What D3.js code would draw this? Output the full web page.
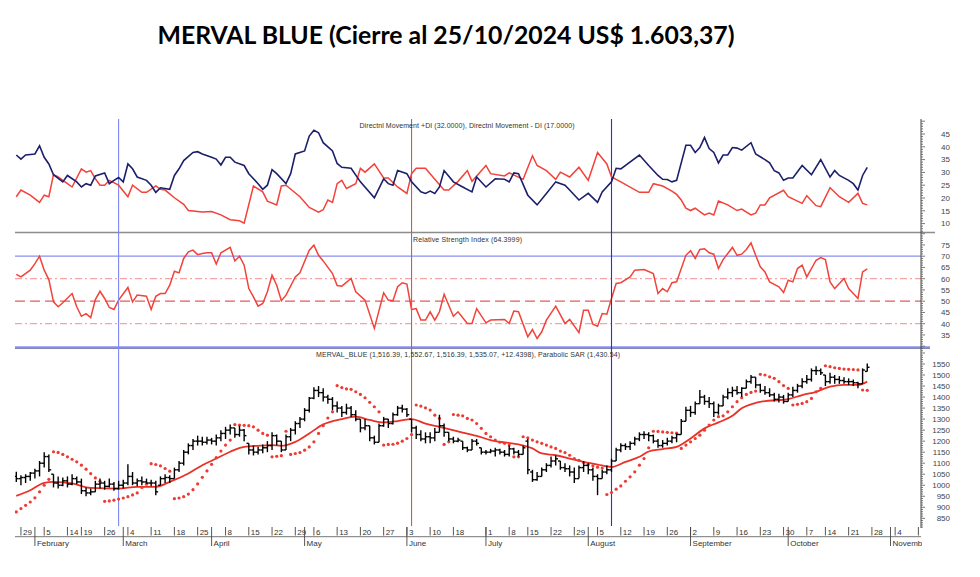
<!DOCTYPE html>
<html><head><meta charset="utf-8">
<script src="https://cdn.jsdelivr.net/npm/d3@7"></script>
<style>body{margin:0;background:#fff}svg{display:block}</style>
</head><body><svg id="c" width="980" height="577"></svg>
<script>
// ---------- DATA ----------
const titleText = "MERVAL BLUE (Cierre al 25/10/2024 US$ 1.603,37)";
const diTitle = "Directnl Movement +DI (32.0000), Directnl Movement - DI (17.0000)";
const rsiTitle = "Relative Strength Index (64.3999)";
const priceTitle = "MERVAL_BLUE (1,516.39, 1,552.67, 1,516.39, 1,535.07, +12.4398), Parabolic SAR (1,430.54)";

const firstDay = "2024-01-26", lastAxisDay = "2024-11-15";
const holidays = ["2024-02-12","2024-02-13","2024-03-28","2024-03-29","2024-04-01","2024-04-02","2024-05-01",
  "2024-06-17","2024-06-20","2024-06-21","2024-07-09","2024-10-11"];

const weekTicks = ["2024-01-29","2024-02-05","2024-02-14","2024-02-19","2024-02-26","2024-03-04","2024-03-11","2024-03-18",
  "2024-03-25","2024-04-08","2024-04-15","2024-04-22","2024-04-29","2024-05-06","2024-05-13","2024-05-20","2024-05-27",
  "2024-06-03","2024-06-10","2024-06-18","2024-07-01","2024-07-08","2024-07-15","2024-07-22","2024-07-29","2024-08-05",
  "2024-08-12","2024-08-19","2024-08-26","2024-09-02","2024-09-09","2024-09-16","2024-09-23","2024-09-30","2024-10-07",
  "2024-10-14","2024-10-21","2024-10-28","2024-11-04","2024-11-11"];
const monthTicks = ["2024-02-01","2024-03-01","2024-04-03","2024-05-02","2024-06-03","2024-07-01","2024-08-01","2024-09-02","2024-10-01","2024-11-01"];
const monthNames = ["February","March","April","May","June","July","August","September","October","November"];
const markerDays = ["2024-02-29","2024-06-04","2024-08-08"];
const markerColors = ["#7f86f5","#e0524a","#2b2bf0"];

const diTicks = [10,15,20,25,30,35,40,45];
const rsiTicks = [35,40,45,50,55,60,65,70,75];
const priceTicks = [850,900,950,1000,1050,1100,1150,1200,1250,1300,1350,1400,1450,1500,1550];

const open = [1040,1030,1035,1040,1055,1065,1100,1130,1050,1010,1000,1020,1005,1030,1015,975,965,970,1005,1010,995,1005,985,1000,
1010,1040,1010,1020,1015,1010,1010,1000,1030,1035,1030,1070,1100,1150,1180,1200,1200,1195,1205,1200,1215,1235,1250,1260,1230,1250,
1190,1160,1150,1160,1170,1180,1225,1200,1160,1220,1250,1280,1300,1340,1395,1430,1420,1400,1390,1360,1350,1330,1350,1320,1300,1260,
1270,1215,1195,1270,1300,1280,1320,1350,1345,1300,1260,1230,1210,1220,1215,1240,1270,1240,1210,1200,1200,1170,1160,1200,1170,1150,
1150,1155,1160,1150,1140,1165,1150,1140,1200,1060,1025,1040,1070,1090,1110,1110,1080,1075,1060,1030,1080,1090,1070,1040,1030,1060,
1070,1110,1160,1180,1175,1190,1210,1230,1230,1225,1200,1180,1190,1200,1215,1230,1290,1340,1330,1370,1400,1380,1370,1330,1360,1400,
1420,1430,1420,1440,1470,1490,1455,1430,1420,1410,1390,1400,1380,1410,1430,1450,1470,1480,1520,1520,1500,1470,1490,1480,1475,1470,
1470,1465,1460,1516.39];
const high = [1061,1045,1050,1060,1075,1110,1150,1140,1050,1040,1035,1040,1050,1040,1030,990,985,1020,1030,1020,1030,1015,1020,1025,
1095,1060,1030,1040,1030,1025,1020,1040,1050,1045,1080,1110,1160,1190,1210,1225,1220,1220,1215,1230,1250,1265,1275,1260,1270,1255,
1190,1180,1175,1185,1200,1240,1230,1200,1230,1260,1290,1310,1350,1400,1445,1450,1440,1410,1400,1380,1360,1370,1360,1340,1300,1300,
1270,1225,1280,1310,1300,1330,1360,1365,1350,1300,1270,1250,1240,1240,1260,1320,1280,1240,1220,1215,1200,1175,1210,1210,1170,1160,
1165,1170,1165,1160,1180,1170,1160,1180,1210,1070,1060,1080,1100,1130,1135,1110,1100,1090,1080,1090,1110,1100,1080,1050,1070,1090,
1120,1170,1190,1190,1200,1220,1240,1245,1240,1230,1210,1205,1215,1225,1235,1300,1356,1360,1380,1432,1410,1400,1380,1370,1410,1440,
1447,1450,1445,1480,1500,1490,1460,1450,1440,1420,1415,1410,1420,1447,1460,1485,1500,1530,1540,1530,1500,1510,1500,1495,1490,1485,
1480,1470,1530,1552.67];
const low = [1015,1000,1010,1020,1030,1040,1080,1060,990,985,995,990,1000,1005,960,950,955,970,985,980,990,975,980,985,
1000,1000,995,1000,1008,995,955,1000,1010,1010,1030,1060,1090,1140,1160,1180,1180,1185,1185,1180,1200,1210,1230,1215,1220,1200,
1140,1135,1140,1145,1150,1160,1180,1150,1160,1200,1230,1260,1290,1330,1390,1400,1380,1370,1340,1330,1310,1320,1310,1290,1240,1250,
1200,1185,1195,1265,1260,1275,1315,1330,1310,1240,1210,1200,1190,1190,1200,1240,1220,1200,1190,1195,1160,1150,1160,1180,1140,1140,
1145,1130,1140,1130,1130,1140,1130,1140,1050,1015,1020,1040,1060,1080,1090,1070,1060,1040,1010,1030,1060,1050,1020,955,1030,1050,
1060,1110,1150,1160,1160,1180,1200,1210,1200,1190,1170,1170,1180,1190,1195,1230,1290,1310,1320,1370,1365,1350,1310,1320,1360,1390,
1400,1410,1400,1440,1460,1440,1420,1410,1400,1380,1375,1370,1380,1400,1420,1440,1460,1470,1500,1500,1450,1460,1460,1460,1460,1455,
1450,1440,1460,1516.39];
const close = [1030,1035,1040,1055,1065,1100,1130,1070,1010,1000,1020,1005,1030,1015,975,965,970,1005,1010,995,1005,985,1000,1010,
1040,1010,1020,1015,1010,1010,970,1030,1035,1030,1070,1100,1150,1180,1200,1200,1195,1205,1200,1215,1235,1250,1260,1230,1250,1225,
1160,1150,1160,1170,1180,1225,1200,1160,1220,1250,1280,1300,1340,1395,1430,1420,1400,1390,1360,1350,1330,1350,1320,1300,1260,1270,
1215,1195,1270,1300,1280,1320,1350,1345,1320,1260,1230,1210,1220,1215,1240,1270,1240,1210,1200,1205,1170,1160,1200,1190,1150,1150,
1155,1160,1150,1140,1165,1150,1140,1170,1070,1025,1040,1070,1090,1110,1120,1080,1075,1060,1030,1080,1090,1070,1040,1030,1060,1070,
1110,1160,1180,1175,1190,1210,1230,1230,1225,1200,1180,1190,1200,1215,1230,1290,1340,1330,1370,1400,1380,1370,1330,1360,1400,1420,
1430,1420,1440,1470,1490,1455,1430,1420,1410,1390,1400,1380,1410,1430,1450,1470,1480,1520,1520,1510,1470,1490,1480,1475,1470,1470,
1465,1460,1522.63,1535.07];
const sar = [879,894,909,924,943,970,1000,1027,1152,1149,1140,1129,1118,1106,1091,1073,1053,1033,1018,927,929,932,937,942,948,956,
965,990,1005,1098,1094,1088,1076,1064,939,942,948,960,980,1006,1036,1065,1095,1125,1155,1182,1205,1275,1273,1272,1270,1265,1250,
1235,1227,1129,1131,1134,1245,1140,1144,1148,1159,1174,1197,1235,1270,1305,1333,1452,1443,1437,1435,1424,1412,1397,1376,1356,1333,
1182,1185,1186,1191,1200,1212,1230,1364,1359,1351,1341,1318,1303,1185,1197,1321,1318,1315,1303,1296,1280,1258,1235,1220,1205,1195,
1190,1182,1129,1129,1220,1215,1205,1197,1190,1182,1174,1167,1155,1148,1136,1121,1113,1103,1094,1088,1082,1078,958,967,982,997,1018,
1038,1061,1091,1121,1170,1245,1244,1242,1240,1238,1236,1167,1182,1197,1212,1227,1250,1273,1296,1311,1315,1333,1356,1379,1397,1412,
1421,1427,1503,1500,1492,1485,1470,1452,1439,1364,1367,1371,1379,1394,1424,1439,1542,1538,1533,1530,1527,1526,1525,1523,1432,1430.54];

const maDay = [0,3,6,8,12,16,22,26,30,33,37,40,43,46,49,52,55,57,60,63,66,70,73,76,79,82,85,88,91,93,96,99,102,105,108,111,113,116,
119,122,125,128,131,134,136,139,142,145,148,151,154,156,158,161,164,166,169,172,175,178,181,183];
const maVal = [952,977,1011,1015,1008,988,985,993,993,1015,1053,1091,1121,1152,1174,1179,1182,1179,1197,1235,1276,1300,1311,1296,1285,
1291,1300,1280,1265,1255,1239,1224,1205,1194,1185,1167,1144,1136,1121,1106,1094,1083,1106,1129,1153,1164,1174,1212,1258,1285,1315,
1349,1367,1382,1386,1391,1409,1424,1447,1455,1455,1470];

const diPlusDay = [0,1,2,4,5,6,7,8,10,11,13,14,15,16,17,19,20,21,22,23,24,25,26,28,29,30,31,33,34,35,36,38,39,40,42,43,44,45,46,47,49,
50,52,53,54,55,56,58,59,60,62,63,64,65,66,68,69,70,72,74,77,79,80,81,82,84,85,87,88,89,90,91,92,94,96,98,99,101,103,105,106,107,108,
110,112,114,116,118,119,121,123,125,126,128,129,130,134,136,138,139,140,141,142,144,145,146,147,148,149,150,151,152,153,154,155,156,
158,159,161,162,163,164,165,166,167,169,171,173,175,176,177,179,180,181,182,183];
const diPlus = [36.8,35.2,36.8,37.2,40.4,35.9,33.3,29.1,26.3,28.8,26.3,24.3,25.6,25,28.6,29.8,25.6,26.9,28,26.3,33.3,31.4,28.2,26.9,25,
22.2,24,23.4,28.8,31.4,34.6,37.8,38.1,37.2,35.9,35.2,32.9,35.9,35.9,34,32.7,29.5,25.6,23.4,25,31.1,29.5,25.6,29.5,37.2,38.4,44.2,46.5,
45.5,41.6,38.4,33.5,32,31.6,26.3,20.1,27.5,25.6,25,30.7,29.5,26.3,22.4,21.8,22.7,21.8,24.3,30.7,26.3,24.3,22.4,28.2,24.3,27.5,27.3,
26.3,29.8,29.5,21.1,17.3,21.8,26.3,25,23.1,19.2,21.8,18.3,22.4,26.3,31.6,31.4,36.8,32.7,28.8,27.3,27.2,26.3,26.9,40.6,40.6,37.8,39.7,
43.6,39.3,37.8,33.7,36.8,36.8,39.7,39.5,38.7,41.6,37.2,35,33.7,30.7,29.8,26.9,27.8,27.8,32.7,29.1,35,28.2,30.7,28.8,26.9,25.6,23.1,
28.8,32];

const diMinusDay = [0,1,3,5,6,7,8,9,11,12,14,15,16,17,18,19,20,22,24,25,27,28,30,31,32,34,36,37,40,42,44,46,48,49,51,53,54,56,57,58,
61,63,65,66,67,68,69,70,71,73,74,75,77,79,80,82,84,85,86,88,90,92,93,95,97,98,101,102,105,106,109,111,112,114,116,117,119,121,123,
125,127,128,130,134,136,137,139,141,142,143,144,145,146,147,148,149,150,151,153,155,156,158,159,160,161,162,165,166,169,170,172,173,
175,177,179,181,182,183];
const diMinus = [20.5,23.1,21.1,18.3,21.1,20.5,29.1,28.2,25.6,24.3,31.4,30.1,30.7,27.5,25,25,26.9,25,20.5,25,22.2,22.2,24.7,23.4,23.1,
20.1,17.5,15.1,14.5,14.7,13.4,11.5,11.1,10.2,24.7,22.4,18.8,17.3,24.7,25,20.5,16.3,14.5,15.4,19.2,18.3,25.6,26.9,23.7,25.6,31.6,30.1,
33.3,27.8,27.8,24.3,21.8,29.5,31.6,31.6,27.3,23.1,23.1,26.5,30.7,26.5,32.7,29.5,28.6,29.8,27.3,36.5,32.7,30.7,27.3,30.1,28.2,32,26.9,
37.8,33.3,28.2,26.3,22.2,22.2,25.6,24.7,22.7,21.4,19.2,16,15.1,16,14.7,13.4,14.1,13.4,18.8,17.3,15.1,15.7,13.4,14.1,17.3,17.3,20.1,
23,20.5,17.9,20.9,17,16.6,24,20.5,18.3,21.8,17.9,17.3];

const rsiDay = [0,1,3,4,5,6,7,8,9,10,12,13,14,15,16,17,18,19,20,21,22,24,25,26,28,29,30,31,32,33,34,35,36,37,38,39,40,41,42,43,44,46,
47,48,49,50,51,52,53,54,55,56,57,58,60,61,63,64,65,66,68,69,70,72,73,75,77,79,80,81,82,83,84,85,86,87,88,89,90,91,92,94,95,97,98,99,
101,102,105,106,107,108,110,111,112,113,114,116,118,119,121,122,123,124,125,126,127,128,129,130,132,133,135,137,138,139,140,141,142,
144,145,146,147,148,149,150,151,152,154,155,156,157,158,159,160,161,162,164,165,166,167,168,169,170,172,173,174,175,176,178,179,181,
182,183];
const rsi = [61.9,60.8,63.8,66.7,70,63.8,59.6,49.7,47.5,49.3,53.4,47.5,43.3,44.5,42.7,50.7,54.4,51.2,47.2,46.3,50.5,56.1,49.7,52.7,
52.2,46.3,52.2,53.4,53.4,57.1,63.3,62.6,69,71.9,72.7,70.7,71.2,71.5,71.5,66.5,71.5,73.9,67.9,70,66,55.6,51.9,47.8,49,54.2,61.6,57.1,
50.2,52.7,60.8,62.6,72.7,74.9,70.4,67.9,62.3,57,56.7,60.1,54.2,50.5,37.9,53.7,50.5,50.2,56.4,58.2,57.6,46.3,46.7,41.6,41.6,45.3,41.6,
45.3,53.1,43.3,45.3,40.1,40.1,46.7,40.4,41.6,41.9,40.1,45.6,45.3,34.2,37.4,33.4,36.4,41.6,47.8,40.1,41.9,36,46,46,39.8,38.9,44.5,44.2,
51.2,57.9,58.2,60.8,63.8,64.1,62.3,53.4,55.6,54.2,58.2,58.6,70.4,72.4,69,73,73.3,71.5,70.9,64.5,68.5,73.9,70.4,70.9,73,75.9,70.4,
65.3,63,58.6,56.4,53.9,59.3,58.6,64.5,66,60.8,68.2,69.4,68.5,58.6,55.6,60.1,55.6,51.2,63,64.4];

// ---------- SETUP ----------
const svg = d3.select("#c");
const parse = d3.utcParse("%Y-%m-%d"), fmt = d3.utcFormat("%Y-%m-%d");
const days = d3.utcDay.range(parse(firstDay), d3.utcDay.offset(parse(lastAxisDay), 1))
  .filter(d => d.getUTCDay() % 6 !== 0 && !holidays.includes(fmt(d))).map(fmt);
const idx = s => days.indexOf(s);

const L = 15, R = 921;
const x = d3.scaleLinear().domain([0, 183]).range([16.3, 867.25]);
const yDI = d3.scaleLinear().domain([10, 45]).range([223.6, 134]);
const yRSI = d3.scaleLinear().domain([30, 70]).range([346.2, 256.2]);
const yP = d3.scaleLinear().domain([850, 1550]).range([518.3, 364]);
const panels = {di: [119, 232.5], rsi: [232.5, 347], price: [348, 527]};

const defs = svg.append("defs");
Object.entries(panels).forEach(([k, [t, b]]) => {
  defs.append("clipPath").attr("id", "clip-" + k).append("rect").attr("x", L).attr("y", t).attr("width", R - L).attr("height", b - t);
});

// title
svg.append("text").attr("x", 446).attr("y", 44).attr("text-anchor", "middle")
  .attr("font-family", "Lato, 'Open Sans', sans-serif").attr("font-weight", 700).attr("font-size", 25)
  .attr("textLength", 577).attr("lengthAdjust", "spacingAndGlyphs").attr("fill", "#000").text(titleText);

const smallFont = "'Liberation Sans', Arial, sans-serif";

// ---------- RSI reference lines ----------
const gR = svg.append("g").attr("clip-path", "url(#clip-rsi)");
[[60, "#f5a3a3", "7,3,2,3"], [40, "#f5a3a3", "7,3,2,3"], [50, "#e85a5a", "10,5"]].forEach(([v, c, da]) => {
  gR.append("line").attr("x1", L).attr("x2", R).attr("y1", yRSI(v)).attr("y2", yRSI(v))
    .attr("stroke", c).attr("stroke-width", 1.2).attr("stroke-dasharray", da);
});
[70].forEach(v => gR.append("line").attr("x1", L).attr("x2", R).attr("y1", yRSI(v)).attr("y2", yRSI(v))
  .attr("stroke", "#8a8ff0").attr("stroke-width", 1.3));

// panel separators
svg.append("line").attr("x1", L).attr("x2", 935).attr("y1", 232.5).attr("y2", 232.5).attr("stroke", "#8c8c8c").attr("stroke-width", 1.5);
svg.append("line").attr("x1", L).attr("x2", 930).attr("y1", 346.8).attr("y2", 346.8).attr("stroke", "#8a8ff0").attr("stroke-width", 1.2);
svg.append("line").attr("x1", L).attr("x2", 930).attr("y1", 348.2).attr("y2", 348.2).attr("stroke", "#5a5f9a").attr("stroke-width", 1.2);

// vertical marker lines
markerDays.forEach((d, i) => {
  svg.append("line").attr("x1", x(idx(d))).attr("x2", x(idx(d))).attr("y1", 119).attr("y2", 526)
    .attr("stroke", markerColors[i]).attr("stroke-width", 1.1);
});

// ---------- DI panel ----------
const gD = svg.append("g").attr("clip-path", "url(#clip-di)");
const lineDI = d3.line().x(d => x(d[0])).y(d => yDI(d[1]));
gD.append("path").datum(d3.zip(diMinusDay, diMinus)).attr("d", lineDI).attr("fill", "none").attr("stroke", "#f2423a").attr("stroke-width", 1.5);
gD.append("path").datum(d3.zip(diPlusDay, diPlus)).attr("d", lineDI).attr("fill", "none").attr("stroke", "#1c1f6b").attr("stroke-width", 1.6);

// ---------- RSI ----------
const lineR = d3.line().x(d => x(d[0])).y(d => yRSI(d[1]));
gR.append("path").datum(d3.zip(rsiDay, rsi)).attr("d", lineR).attr("fill", "none").attr("stroke", "#f2423a").attr("stroke-width", 1.5);

// ---------- PRICE ----------
const gP = svg.append("g").attr("clip-path", "url(#clip-price)");
const lineMA = d3.line().x(d => x(d[0])).y(d => yP(d[1])).curve(d3.curveMonotoneX);
gP.append("path").datum(d3.zip(maDay, maVal)).attr("d", lineMA).attr("fill", "none").attr("stroke", "#ea3127").attr("stroke-width", 1.8);

gP.selectAll("circle.sar").data(sar).join("circle").attr("class", "sar")
  .attr("cx", (d, i) => x(i)).attr("cy", d => yP(d)).attr("r", 1.6).attr("fill", "#ee3a30");

const bars = gP.append("g").attr("stroke", "#000").attr("stroke-width", 1.4);
close.forEach((c, i) => {
  const cx = x(i);
  bars.append("line").attr("x1", cx).attr("x2", cx).attr("y1", yP(high[i])).attr("y2", yP(low[i]));
  bars.append("line").attr("x1", cx - 2.3).attr("x2", cx).attr("y1", yP(open[i])).attr("y2", yP(open[i]));
  bars.append("line").attr("x1", cx).attr("x2", cx + 2.3).attr("y1", yP(c)).attr("y2", yP(c));
});

// panel titles
svg.append("text").attr("x", 467).attr("y", 128).attr("text-anchor", "middle").attr("font-family", smallFont)
  .attr("font-size", 7).attr("fill", "#333").attr("textLength", 215).text(diTitle);
svg.append("text").attr("x", 413).attr("y", 242).attr("font-family", smallFont)
  .attr("font-size", 7).attr("fill", "#333").attr("textLength", 109).text(rsiTitle);
svg.append("text").attr("x", 316).attr("y", 357).attr("font-family", smallFont)
  .attr("font-size", 7).attr("fill", "#333").attr("textLength", 304).text(priceTitle);

// ---------- right axes ----------
const axG = svg.append("g");
axG.append("line").attr("x1", R).attr("x2", R).attr("y1", 119).attr("y2", 528).attr("stroke", "#444").attr("stroke-width", 1);
function rightAxis(scale, lo, hi, minorStep, majorStep, labels) {
  for (let v = lo; v <= hi + 1e-9; v += minorStep) {
    const major = Math.abs(v / majorStep - Math.round(v / majorStep)) < 1e-6;
    axG.append("line").attr("x1", R).attr("x2", R + (major ? 4 : 2)).attr("y1", scale(v)).attr("y2", scale(v))
      .attr("stroke", "#555").attr("stroke-width", 0.8);
  }
  labels.forEach(v => axG.append("text").attr("x", 950).attr("y", scale(v) + 2.8).attr("text-anchor", "end")
    .attr("font-family", smallFont).attr("font-size", 8).attr("fill", "#444").text(v));
}
rightAxis(yDI, 7, 50, 1, 5, diTicks);
rightAxis(yRSI, 30, 80, 1, 5, rsiTicks);
rightAxis(yP, 810, 1620, 10, 50, priceTicks);

// ---------- x axis ----------
const xa = svg.append("g");
xa.append("line").attr("x1", L).attr("x2", R).attr("y1", 536.7).attr("y2", 536.7).attr("stroke", "#777").attr("stroke-width", 1);
weekTicks.forEach((d, k) => {
  const px = x(idx(d));
  if (px > R) return;
  xa.append("line").attr("x1", px).attr("x2", px).attr("y1", 527).attr("y2", 535.5).attr("stroke", "#444").attr("stroke-width", 0.9);
  if (px < R - 8) xa.append("text").attr("x", px + 2).attr("y", 535).attr("font-family", smallFont).attr("font-size", 8)
    .attr("fill", "#333").text(+d.slice(8));
});
const xClip = defs.append("clipPath").attr("id", "clip-x").append("rect").attr("x", L).attr("y", 520).attr("width", R - L + 1).attr("height", 40);
const xm = xa.append("g").attr("clip-path", "url(#clip-x)");
monthTicks.forEach((d, k) => {
  const px = x(idx(d));
  xm.append("line").attr("x1", px).attr("x2", px).attr("y1", 527).attr("y2", 546).attr("stroke", "#444").attr("stroke-width", 0.9);
  xm.append("text").attr("x", px + 2).attr("y", 545.5).attr("font-family", smallFont).attr("font-size", 8)
    .attr("fill", "#333").text(monthNames[k]);
});
</script></body></html>
